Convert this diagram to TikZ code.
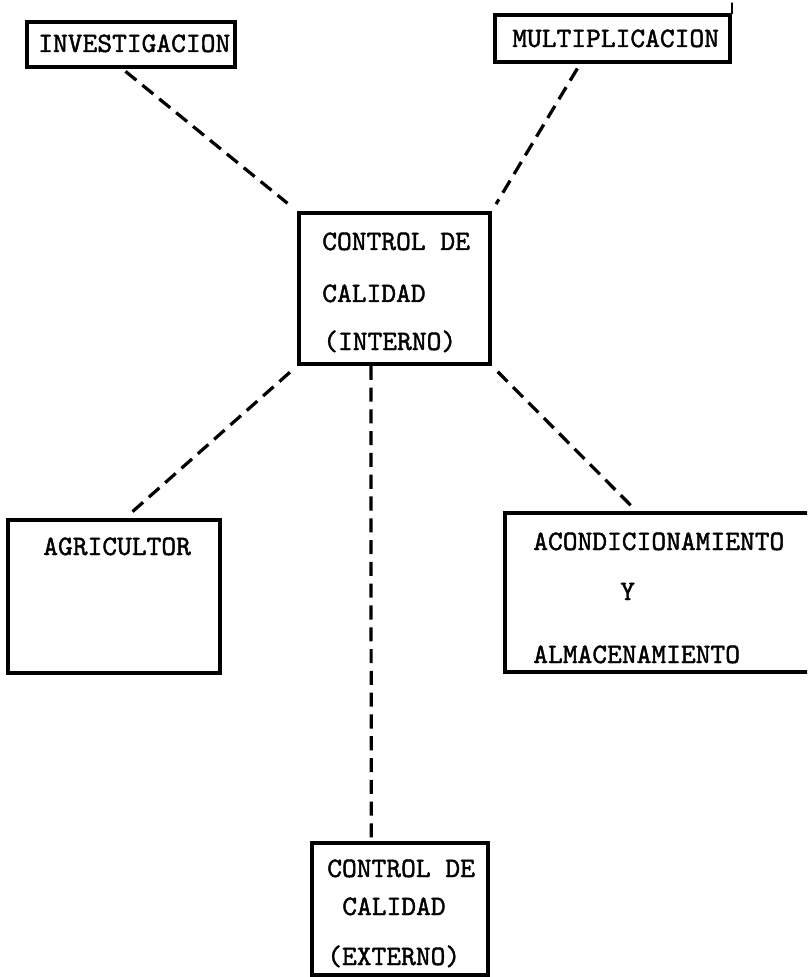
\documentclass[tikz,border=0pt]{standalone}
\usepackage{fontspec}
\newfontfamily\maquina{lmmono10-regular.otf}[FakeBold=1.5]
\usetikzlibrary{calc, positioning}

\begin{document}
\begin{tikzpicture}[line cap=round,line join=round,x=0.025cm,y=-0.025cm,
  caja/.style={draw, line width=2.4pt, inner sep=0pt, line cap=butt, line join=miter},
  enlace/.style={line width=2.3pt, dash pattern=on 10pt off 5.5pt, line cap=butt},
  rotulo/.style={font=\maquina\fontsize{20}{24}\selectfont, inner sep=0pt, anchor=base west}]
\useasboundingbox (0,0) rectangle (807,977);
\clip (0,0) rectangle (807,977);

% centros de las cajas
\coordinate (Inv) at (131,44.5);
\coordinate (Mul) at (612.5,38.5);
\coordinate (Ctl) at (394.5,288.5);
\coordinate (Agr) at (114,596.5);
\coordinate (Aco) at (660,592.5);
\coordinate (Ext) at (400,909);

% cajas
\node [caja, minimum width=5.2cm, minimum height=1.125cm] (inv) at (Inv) {};
\node [caja, minimum width=5.875cm, minimum height=1.175cm] (mul) at (Mul) {};
\node [caja, minimum width=4.775cm, minimum height=3.775cm] (ctl) at (Ctl) {};
\node [caja, minimum width=5.3cm, minimum height=3.825cm] (agr) at (Agr) {};
\node [caja, minimum width=7.75cm, minimum height=3.975cm] (aco) at (Aco) {};
\node [caja, minimum width=4.4cm, minimum height=3.3cm] (ext) at (Ext) {};
\draw [line width=1.6pt] (mul.north east) -- ++(0,-10);

% textos
\node [rotulo] (tinv) at (38,52) {INVESTIGACION};
\node [rotulo] (tmul) at (512,47) {MULTIPLICACION};
\node [rotulo] (tctl1) at (322,250) {CONTROL DE};
\node [rotulo] (tctl2) at (322,302) {CALIDAD};
\node [rotulo] (tctl3) at (323,350) {(INTERNO)};
\node [rotulo] (tagr) at (43,555) {AGRICULTOR};
\node [rotulo] (taco1) at (533,550) {ACONDICIONAMIENTO};
\node [rotulo] (taco2) at (620,600) {Y};
\node [rotulo] (taco3) at (533,663) {ALMACENAMIENTO};
\node [rotulo] (text1) at (327,877) {CONTROL DE};
\node [rotulo] (text2) at (342,915) {CALIDAD};
\node [rotulo] (text3) at (327,965) {(EXTERNO)};

% lineas de trazos
\draw [enlace, shorten <=3pt, shorten >=9pt] (inv.250) -- (ctl.north west);
\draw [enlace, shorten <=4pt, shorten >=6pt] (mul.218) -- (ctl.north east);
\draw [enlace, shorten <=7pt, shorten >=2pt] (ctl.south west) -- (agr.82);
\draw [enlace, shorten <=6pt, shorten >=3pt] (ctl.south east) -- (aco.106);
\draw [enlace] (ctl.253) -- (ext.113);

\end{tikzpicture}
\end{document}
